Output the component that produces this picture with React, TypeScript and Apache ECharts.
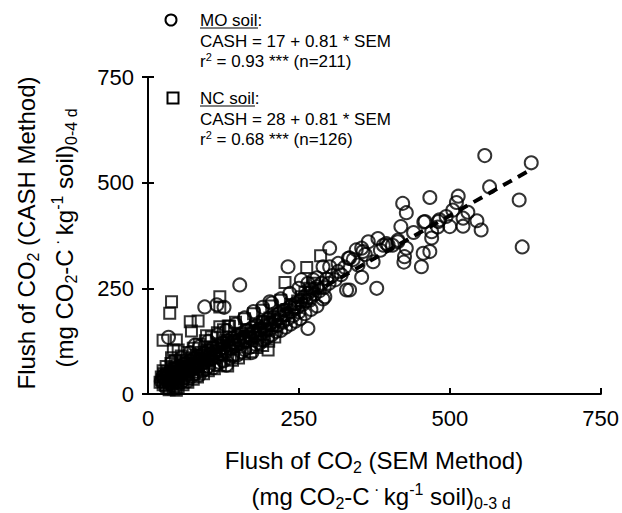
import React, { useEffect, useRef } from "react";
import * as echarts from "echarts";

const xTicks = [0, 250, 500, 750];
const yTicks = [0, 250, 500, 750];

const moSoil: number[][] = [
  [558, 564], [635, 547], [566, 490], [615, 459], [552, 388], [620, 348],
  [467, 465], [514, 468], [511, 453], [422, 451], [428, 429], [419, 396], [457, 407],
  [494, 420], [500, 396], [522, 416], [522, 397], [505, 435], [481, 408], [470, 384],
  [470, 369], [467, 337], [456, 333], [453, 301], [398, 352], [414, 360], [428, 345],
  [425, 325], [424, 312], [381, 368], [390, 352], [365, 360], [354, 345], [345, 341],
  [334, 322], [348, 305], [373, 313], [354, 276], [379, 250], [334, 246], [459, 408],
  [483, 412], [395, 356], [414, 364],
  [301, 345], [315, 309], [332, 321], [301, 301], [290, 301], [356, 337], [329, 246],
  [232, 301], [254, 270], [274, 270], [265, 155], [152, 258], [293, 230], [268, 222],
  [243, 206], [202, 218], [94, 206], [114, 211], [126, 205], [34, 134], [78, 116],
  [188, 128], [185, 134],
  [22, 30], [25, 42], [27, 36], [30, 48], [32, 33], [34, 44], [36, 52], [38, 40],
  [40, 58], [42, 47], [44, 38], [46, 62], [48, 52], [50, 44], [52, 66], [54, 56],
  [56, 48], [58, 70], [60, 60], [62, 52], [64, 74], [66, 64], [68, 56], [70, 78],
  [72, 68], [74, 60], [76, 84], [78, 72], [80, 64], [82, 88], [84, 78], [86, 70],
  [88, 92], [90, 82], [92, 74], [94, 96], [96, 86], [98, 80], [100, 102], [103, 92],
  [106, 84], [108, 108], [110, 98], [113, 90], [116, 114], [118, 104], [120, 96],
  [123, 120], [126, 110], [128, 102], [131, 126], [134, 116], [136, 108], [139, 132],
  [142, 122], [145, 114], [148, 138], [150, 128], [153, 120], [156, 144], [158, 134],
  [161, 126], [164, 150], [167, 140], [170, 132], [172, 156], [175, 146], [178, 138],
  [181, 162], [184, 152], [187, 144], [190, 170], [193, 160], [196, 150], [199, 176],
  [202, 166], [205, 156], [208, 182], [211, 172], [214, 162], [217, 190], [220, 180],
  [223, 170], [226, 198], [229, 188], [232, 178], [235, 206], [238, 196], [241, 186],
  [244, 214], [247, 204], [250, 194], [253, 222], [256, 212], [259, 230], [262, 220],
  [265, 238], [268, 228], [272, 246], [276, 236], [280, 254], [284, 244], [288, 262],
  [292, 252], [296, 272], [300, 262], [305, 280], [310, 270], [315, 290], [320, 282],
  [326, 300], [340, 318], [360, 330], [385, 340], [405, 352], [440, 382], [480, 395],
  [530, 430], [545, 410],
  [30, 15], [35, 25], [40, 22], [48, 30], [55, 28], [60, 38], [65, 30], [72, 42],
  [78, 48], [85, 45], [90, 55], [96, 60], [100, 65], [108, 62], [112, 70], [118, 75],
  [125, 78], [130, 68], [135, 85], [140, 90], [148, 92], [155, 100], [160, 105],
  [168, 110], [172, 98], [178, 118], [185, 120], [192, 128], [198, 135], [205, 140],
  [212, 148], [220, 150], [228, 158], [236, 165], [244, 172], [252, 178], [260, 190],
  [270, 200], [280, 208], [290, 225],
  [40, 75], [55, 85], [70, 98], [85, 112], [100, 125], [115, 140], [130, 150],
  [145, 165], [160, 180], [175, 195], [190, 205], [205, 215], [220, 225], [235, 238],
  [250, 250], [265, 262], [280, 275],
];

const ncSoil: number[][] = [
  [39, 218], [36, 191], [119, 230], [119, 206], [70, 171], [83, 173], [72, 149],
  [97, 138], [119, 159], [133, 161], [25, 127], [47, 128], [50, 104], [42, 104],
  [39, 86], [141, 92], [199, 104], [47, 9], [227, 264], [263, 299], [286, 327],
  [20, 28], [22, 40], [24, 34], [26, 48], [28, 30], [30, 44], [32, 54], [34, 38],
  [36, 28], [38, 50], [40, 62], [42, 44], [44, 34], [46, 56], [48, 68], [50, 48],
  [52, 38], [54, 60], [56, 74], [58, 52], [60, 42], [62, 66], [64, 80], [66, 56],
  [68, 46], [70, 72], [72, 86], [74, 62], [76, 52], [78, 78], [80, 92], [82, 68],
  [84, 58], [86, 84], [88, 98], [90, 74], [92, 64], [95, 90], [98, 104], [101, 80],
  [104, 96], [107, 110], [110, 86], [113, 102], [116, 116], [119, 92], [122, 108],
  [125, 122], [128, 100], [131, 114], [134, 128], [137, 108], [140, 120], [143, 134],
  [146, 116], [150, 128], [154, 142], [158, 124], [162, 136], [166, 150], [170, 132],
  [174, 146], [178, 160], [182, 142], [186, 156], [190, 170], [194, 152], [198, 166],
  [202, 180], [206, 162], [210, 176], [215, 190], [220, 172], [225, 186], [230, 200],
  [236, 212], [242, 205], [248, 220], [254, 230], [260, 240], [268, 250], [276, 262],
  [282, 250], [30, 20], [40, 25], [45, 18], [35, 15], [55, 30], [65, 36], [25, 22],
  [50, 26],
  [25, 55], [30, 65], [38, 72], [45, 80], [55, 90], [65, 98], [75, 108], [85, 118],
  [95, 126], [105, 135], [115, 145], [125, 152], [135, 160], [145, 170], [160, 178],
  [175, 190], [190, 198], [205, 208], [220, 222],
  [35, 10], [42, 12], [50, 15], [58, 22], [66, 28], [75, 35], [82, 40], [92, 48],
  [100, 55], [110, 60], [120, 68], [132, 66], [140, 80], [150, 85], [160, 95],
  [170, 100], [180, 110], [190, 115], [200, 125], [210, 135],
];

const fitLine: number[][] = [
  [25, 37],
  [632, 529],
];

const FONT = "Liberation Sans, Arial, Helvetica, sans-serif";

const titleRich = {
  a: { fontSize: 24, lineHeight: 30, fontFamily: FONT, fill: "#000" },
  s: { fontSize: 16, lineHeight: 16, verticalAlign: "bottom", fontFamily: FONT, fill: "#000" },
  p: { fontSize: 16, lineHeight: 16, verticalAlign: "top", fontFamily: FONT, fill: "#000" },
  m: { fontSize: 16, lineHeight: 27, verticalAlign: "top", fontFamily: FONT, fill: "#000" },
};

const legRich = {
  a: { fontSize: 17, lineHeight: 20, fontFamily: FONT, fill: "#000" },
  p: { fontSize: 11, lineHeight: 11, verticalAlign: "top", fontFamily: FONT, fill: "#000" },
};

function txt(x: number, y: number, text: string, rich: any, opts: any = {}) {
  return {
    type: "text",
    x,
    y,
    rotation: opts.rotation || 0,
    style: {
      text,
      rich,
      font: `24px ${FONT}`,
      align: opts.align || "left",
      textAlign: opts.align || "left",
      verticalAlign: "middle",
      textVerticalAlign: "middle",
      fill: "#000",
    },
    z: 100,
  };
}

export default function App() {
  const ref = useRef<HTMLDivElement>(null);
  useEffect(() => {
    if (!ref.current) return;
    const chart = echarts.init(ref.current, undefined, { renderer: "svg" });
    const axisCommon = {
      type: "value",
      min: 0,
      max: 750,
      interval: 250,
      splitLine: { show: false },
      axisLine: { show: true, lineStyle: { color: "#000", width: 2 } },
    };
    chart.setOption({
      animation: false,
      backgroundColor: "#fff",
      grid: { left: 148, right: 21, top: 77, bottom: 119, containLabel: false },
      xAxis: [
        {
          ...axisCommon,
          position: "bottom",
          axisTick: { show: true, inside: true, length: 6, lineStyle: { color: "#000", width: 2 } },
          axisLabel: {
            show: true,
            margin: 13,
            fontSize: 22,
            color: "#000",
            fontFamily: FONT,
            customValues: xTicks,
          },
        },
        {
          ...axisCommon,
          position: "top",
          axisTick: { show: false },
          axisLabel: { show: false },
        },
      ],
      yAxis: [
        {
          ...axisCommon,
          position: "left",
          axisTick: { show: true, inside: true, length: 6, lineStyle: { color: "#000", width: 2 } },
          axisLabel: {
            show: true,
            margin: 14,
            fontSize: 22,
            color: "#000",
            fontFamily: FONT,
            customValues: yTicks,
          },
        },
        {
          ...axisCommon,
          position: "right",
          axisTick: { show: true, inside: true, length: 6, lineStyle: { color: "#000", width: 2 } },
          axisLabel: { show: false },
        },
      ],
      series: [
        {
          name: "MO soil",
          type: "scatter",
          data: moSoil,
          symbol: "circle",
          symbolSize: 13,
          itemStyle: { color: "rgba(0,0,0,0)", borderColor: "#000", borderWidth: 2 },
          z: 2,
        },
        {
          name: "NC soil",
          type: "scatter",
          data: ncSoil,
          symbol: "rect",
          symbolSize: 11,
          itemStyle: { color: "rgba(0,0,0,0)", borderColor: "#000", borderWidth: 2 },
          z: 3,
        },
        {
          name: "fit",
          type: "line",
          data: fitLine,
          symbol: "none",
          lineStyle: { color: "#000", width: 4, type: [10, 7] },
          z: 5,
        },
      ],
      graphic: [
        { type: "circle", shape: { cx: 171, cy: 20, r: 5.5 }, style: { fill: "none", stroke: "#000", lineWidth: 2 }, z: 100 },
        { type: "rect", shape: { x: 167.5, y: 92.5, width: 11, height: 11 }, style: { fill: "#fff", stroke: "#000", lineWidth: 2 }, z: 100 },
        txt(200, 20, "{a|MO soil:}", legRich),
        { type: "line", shape: { x1: 200, y1: 28, x2: 258, y2: 28 }, style: { stroke: "#000", lineWidth: 1.2 }, z: 100 },
        txt(200, 41, "{a|CASH = 17 + 0.81 * SEM}", legRich),
        txt(200, 61, "{a|r}{p|2}{a| = 0.93 *** (n=211)}", legRich),
        txt(200, 98, "{a|NC soil:}", legRich),
        { type: "line", shape: { x1: 200, y1: 106, x2: 255, y2: 106 }, style: { stroke: "#000", lineWidth: 1.2 }, z: 100 },
        txt(200, 119, "{a|CASH = 28 + 0.81 * SEM}", legRich),
        txt(200, 139, "{a|r}{p|2}{a| = 0.68 *** (n=126)}", legRich),
        txt(374, 460, "{a|Flush of CO}{s|2}{a| (SEM Method)}", titleRich, { align: "center" }),
        txt(381, 496, "{a|(mg CO}{s|2}{a|-C}{m| · }{a|kg}{p|-1}{a| soil)}{s|0-3 d}", titleRich, { align: "center" }),
        txt(26, 233, "{a|Flush of CO}{s|2}{a| (CASH Method)}", titleRich, { align: "center", rotation: Math.PI / 2 }),
        txt(64, 238, "{a|(mg CO}{s|2}{a|-C}{m| · }{a|kg}{p|-1}{a| soil)}{s|0-4 d}", titleRich, { align: "center", rotation: Math.PI / 2 }),
      ],
    });
    return () => chart.dispose();
  }, []);
  return <div ref={ref} style={{ width: 622, height: 513, position: "absolute", left: 0, top: 0 }} />;
}
